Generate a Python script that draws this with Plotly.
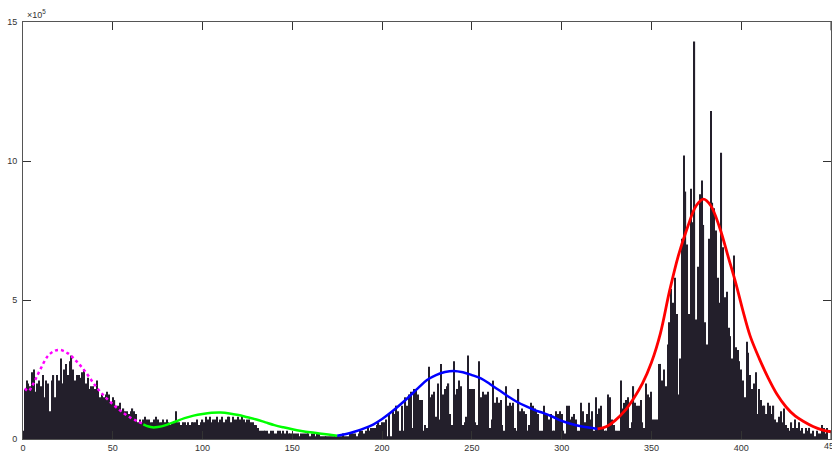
import plotly.graph_objects as go

# ---- histogram counts (units of 1e4), bins x = 0..448 ----
counts_1e4 = [
    3,
    18, 21, 20, 19, 24, 25, 17, 20, 21, 19,
    23, 15, 21, 20, 10, 21, 23, 15, 23, 21,
    29, 20, 25, 27, 23, 28, 30, 25, 21, 23,
    23, 22, 24, 25, 20, 22, 18, 19, 19, 18,
    21, 18, 15, 16, 15, 16, 17, 16, 13, 15,
    14, 12, 12, 13, 10, 11, 10, 10, 9, 10,
    11, 10, 9, 6, 7, 6, 7, 8, 7, 7,
    6, 6, 7, 8, 7, 6, 6, 7, 6, 7,
    6, 5, 6, 6, 10, 6, 6, 5, 6, 6,
    5, 6, 5, 6, 6, 6, 7, 5, 6, 7,
    6, 8, 7, 8, 6, 7, 7, 8, 6, 7,
    8, 6, 7, 8, 8, 6, 8, 7, 7, 8,
    7, 8, 7, 6, 7, 7, 6, 6, 5, 5,
    4, 3, 3, 3, 3, 3, 2, 3, 3, 2,
    2, 3, 3, 2, 3, 2, 3, 2, 2, 2,
    2, 2, 2, 1, 2, 2, 2, 2, 2, 1,
    2, 2, 1, 2, 2, 1, 1, 1, 1, 1,
    1, 1, 1, 1, 1, 1, 1, 2, 1, 1,
    1, 2, 2, 2, 2, 1, 2, 3, 3, 2,
    3, 4, 3, 4, 4, 4, 5, 6, 5, 6,
    6, 7, 1, 9, 1, 10, 9, 12, 10, 3,
    12, 3, 15, 12, 16, 17, 4, 18, 18, 16,
    14, 14, 3, 5, 4, 26, 15, 16, 17, 8,
    20, 7, 27, 16, 18, 19, 20, 9, 5, 28,
    16, 18, 21, 19, 5, 6, 8, 30, 18, 18,
    18, 6, 5, 28, 15, 17, 16, 16, 17, 4,
    7, 21, 13, 15, 13, 14, 5, 3, 19, 12,
    13, 12, 13, 4, 3, 18, 10, 11, 10, 9,
    3, 5, 13, 12, 11, 10, 9, 3, 3, 12,
    9, 9, 7, 9, 3, 3, 10, 9, 10, 9,
    3, 2, 12, 12, 7, 8, 9, 7, 3, 3,
    13, 10, 6, 9, 13, 7, 10, 3, 15, 9,
    11, 12, 4, 3, 3, 16, 15, 7, 5, 3,
    3, 3, 21, 11, 13, 14, 15, 4, 6, 19,
    13, 12, 12, 14, 6, 4, 20, 16, 15, 17,
    7, 7, 7, 27, 27, 21, 25, 19, 34, 42,
    54, 49, 58, 45, 16, 29, 72, 102, 89, 70,
    45, 90, 78, 143, 43, 62, 88, 93, 77, 42,
    34, 72, 118, 85, 83, 75, 58, 49, 103, 69,
    51, 53, 40, 37, 29, 66, 33, 32, 28, 25,
    21, 15, 35, 31, 23, 18, 20, 24, 9, 18,
    14, 12, 12, 9, 13, 12, 9, 12, 7, 6,
    8, 10, 6, 11, 5, 4, 3, 6, 4, 7,
    4, 6, 3, 4, 2, 4, 3, 4, 2, 3,
    1, 3, 2, 2, 5, 4, 2, 4,
]
bins = list(range(len(counts_1e4)))

# ---- fitted curves, read as (x, value in 1e4) ----
mag_x = [1, 3, 5, 7, 10, 14, 18, 21, 25, 30, 35, 40, 45, 50, 55, 60, 64, 67]
mag_y = [18.2, 17.2, 19, 21.5, 25.5, 30, 31.8, 32, 30.8, 27.8, 24, 19.4, 15.6, 12.5, 9.8, 7.6, 6.3, 5.4]

grn_x = [67, 70, 72, 75, 80, 85, 90, 95, 100, 105, 110, 115, 120, 125, 130, 135, 140, 145, 150, 155, 160, 165, 170, 175]
grn_y = [5.3, 4.5, 4.2, 4.3, 5.1, 6.3, 7.5, 8.4, 9.0, 9.4, 9.5, 9.2, 8.6, 7.8, 7.0, 6.0, 5.0, 4.2, 3.5, 2.9, 2.4, 2.0, 1.6, 1.2]

blu_x = [175, 180, 185, 190, 195, 200, 205, 210, 215, 220, 225, 230, 235, 240, 245, 250, 255, 260, 265, 270,
         275, 280, 285, 290, 295, 300, 305, 310, 315, 320]
blu_y = [1.2, 1.8, 2.7, 3.8, 5.2, 7.2, 9.6, 12.3, 15.2, 18.3, 21.2, 23, 24.1, 24.5, 24, 23, 21.8, 19.8, 17.6, 15.4,
         13.4, 11.8, 10.4, 9.3, 8.0, 6.5, 5.5, 4.7, 4.1, 3.6]

red_x = [320, 325, 330, 335, 340, 345, 350, 355, 360, 365, 370, 375, 379, 383, 388, 393, 397, 401, 405, 410,
         415, 420, 425, 430, 435, 440, 445, 450]
red_y = [3.6, 4.5, 6.8, 10, 14.5, 20, 27.5, 38, 53, 66, 76, 84, 86.3, 84, 76, 65, 56, 46, 37, 29,
         22, 16, 11.5, 8.3, 6.2, 4.5, 3.3, 2.6]

x_ticks = [0, 50, 100, 150, 200, 250, 300, 350, 400, 450]
y_ticks = [0, 5, 10, 15]          # units of 1e5

SCALE = 1e4
FONT = dict(family="Liberation Sans, Arial, sans-serif", size=9, color="#333333")

fig = go.Figure()
fig.add_trace(go.Bar(
    x=bins, y=[v * SCALE for v in counts_1e4],
    marker=dict(color="#231f2b", line=dict(width=0)),
    hoverinfo="skip",
))

def curve(xs, ys, color, dash="solid", width=2.5):
    fig.add_trace(go.Scatter(
        x=xs, y=[v * SCALE for v in ys], mode="lines",
        line=dict(color=color, width=width, shape="spline", dash=dash),
        hoverinfo="skip",
    ))

curve(mag_x, mag_y, "#ff00ff", "dot", 2.5)
curve(grn_x, grn_y, "#00ff00")
curve(blu_x, blu_y, "#0000ff")
curve(red_x, red_y, "#ff0000", width=2.8)

axis_common = dict(
    showline=True, linecolor="#555555", linewidth=1, mirror="allticks",
    ticks="inside", ticklen=8, tickcolor="#333333", tickwidth=1,
    showgrid=False, zeroline=False, tickfont=FONT, automargin=False,
)

fig.update_layout(
    width=832, height=452,
    margin=dict(l=23, r=1, t=22, b=13),
    paper_bgcolor="white", plot_bgcolor="white",
    showlegend=False, bargap=0.35,
    xaxis=dict(range=[0, 450], tickvals=x_ticks[:-1], ticktext=[str(t) for t in x_ticks[:-1]],
               ticklabelstandoff=0, **axis_common),
    yaxis=dict(range=[0, 15e5], tickvals=[t * 1e5 for t in y_ticks], ticktext=[str(t) for t in y_ticks],
               ticklabelstandoff=3, **axis_common),
    shapes=[
        dict(type="line", xref="x", yref="paper", x0=x_ticks[-1], x1=x_ticks[-1], y0=0, y1=0.02,
             line=dict(color="#333333", width=1)),
        dict(type="line", xref="x", yref="paper", x0=x_ticks[-1], x1=x_ticks[-1], y0=0.98, y1=1,
             line=dict(color="#333333", width=1)),
    ],
    annotations=[
        dict(xref="paper", yref="paper", x=0.003, y=1.0, xanchor="left", yanchor="bottom",
             text="×10<sup>5</sup>", showarrow=False,
             font=dict(family="Liberation Sans, Arial, sans-serif", size=9, color="#333333")),
        dict(xref="x", yref="paper", x=x_ticks[-1], y=0, xanchor="center", yanchor="top",
             text=str(x_ticks[-1]), showarrow=False, font=FONT, yshift=0),
    ],
)

fig.write_html(
    "out.html",
    config={"responsive": False, "displayModeBar": False},
    post_script="document.body.style.margin='0';document.body.style.overflow='hidden';",
)
